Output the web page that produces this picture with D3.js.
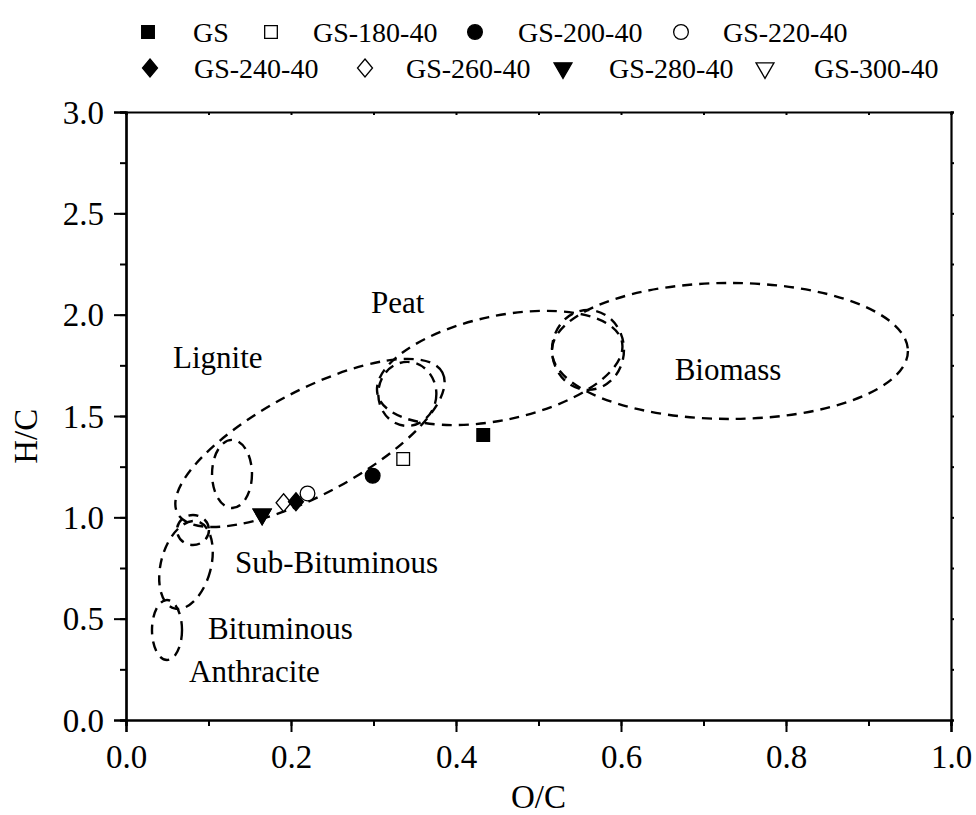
<!DOCTYPE html>
<html>
<head>
<meta charset="utf-8">
<script src="https://cdn.jsdelivr.net/npm/d3@7/dist/d3.min.js"></script>
<style>
  body { margin: 0; background: #fff; }
  text { font-family: "Liberation Serif", "Times New Roman", serif; fill: #000; }
</style>
</head>
<body>
<div id="chart"></div>
<script>
// samples (O/C, H/C)
var seriesNames = ["GS", "GS-180-40", "GS-200-40", "GS-220-40", "GS-240-40", "GS-260-40", "GS-280-40", "GS-300-40"];
var ocValues = [0.433, 0.336, 0.299, 0.220, 0.206, 0.191, 0.165, 0.165];
var hcValues = [1.406, 1.288, 1.205, 1.118, 1.077, 1.072, 1.015, 1.015];
var markerShapes = ["square", "square", "circle", "circle", "diamond", "diamond", "triangle", "triangle"];
var markerFilled = [true, false, true, false, true, false, true, false];

// fuel regions: centre (O/C, H/C), half axes (O/C, H/C), tilt in degrees
var regionCx = [0.732, 0.560, 0.453, 0.341, 0.223, 0.1285, 0.0727, 0.0812, 0.0497];
var regionCy = [1.821, 1.826, 1.737, 1.609, 1.367, 1.214, 0.765, 0.9375, 0.444];
var regionRx = [0.2158, 0.0436, 0.1515, 0.0352, 0.1818, 0.0242, 0.0303, 0.0194, 0.0182];
var regionRy = [0.3355, 0.197, 0.2566, 0.158, 0.2566, 0.168, 0.222, 0.074, 0.148];
var regionTilt = [0, 0, -12, 0, -28, 0, 15, 0, 0];

var regionLabels = ["Peat", "Biomass", "Lignite", "Sub-Bituminous", "Bituminous", "Anthracite"];
var labelOc = [0.297, 0.665, 0.057, 0.132, 0.0994, 0.0764];
var labelHc = [2.008, 1.678, 1.737, 0.725, 0.400, 0.1875];

var xTicks = [0, 0.2, 0.4, 0.6, 0.8, 1.0];
var yTicks = [0, 0.5, 1.0, 1.5, 2.0, 2.5, 3.0];

var width = 976, height = 815;
var margin = {top: 112, right: 25, bottom: 95, left: 126};

var svg = d3.select("#chart").append("svg")
    .attr("width", width)
    .attr("height", height);

var x = d3.scaleLinear().domain([0, 1]).range([margin.left, width - margin.right]);
var y = d3.scaleLinear().domain([0, 3]).range([height - margin.bottom, margin.top]);

// regions
var regions = svg.append("g")
    .attr("fill", "none")
    .attr("stroke", "#000")
    .attr("stroke-width", 2.4)
    .attr("stroke-dasharray", "10,7");

regionCx.forEach(function(cx, i) {
    var px = x(cx), py = y(regionCy[i]);
    regions.append("ellipse")
        .attr("cx", 0).attr("cy", 0)
        .attr("rx", x(cx + regionRx[i]) - px)
        .attr("ry", py - y(regionCy[i] + regionRy[i]))
        .attr("transform", "translate(" + px + "," + py + ") rotate(" + regionTilt[i] + ")");
});

svg.append("g").selectAll("text")
    .data(regionLabels)
    .join("text")
    .attr("x", function(d, i) { return x(labelOc[i]); })
    .attr("y", function(d, i) { return y(labelHc[i]); })
    .attr("font-size", 31)
    .text(function(d) { return d; });

// markers
var symbolTypes = {
    square: d3.symbolSquare,
    circle: d3.symbolCircle,
    triangle: d3.symbolTriangle
};
var symbolSizes = {square: 160, circle: 170, triangle: 140};

function marker(g, i) {
    var shape = markerShapes[i];
    var p = g.append("path");
    if (shape == "diamond") {
        p.attr("d", "M0,-9L7.5,0L0,9L-7.5,0Z");
    } else {
        p.attr("d", d3.symbol().type(symbolTypes[shape]).size(symbolSizes[shape]))
         .attr("transform", shape == "triangle" ? "rotate(180)" : null);
    }
    p.attr("fill", markerFilled[i] ? "#000" : "#fff")
        .attr("stroke", "#000")
        .attr("stroke-width", 1.3);
}

// GS-300-40 sits under GS-280-40
var order = d3.range(seriesNames.length).reverse();
order.forEach(function(i) {
    var g = svg.append("g").attr("transform", "translate(" + x(ocValues[i]) + "," + y(hcValues[i]) + ")");
    marker(g, i);
});

// axes
svg.append("g")
    .attr("transform", "translate(0," + y(0) + ")")
    .call(d3.axisBottom(x).tickValues(d3.range(0, 1.01, 0.1)).tickSize(6).tickFormat(""));
var xAxisMajor = svg.append("g")
    .attr("transform", "translate(0," + y(0) + ")")
    .call(d3.axisBottom(x).tickValues(xTicks).tickSize(12).tickPadding(6).tickFormat(d3.format(".1f")));
svg.append("g")
    .attr("transform", "translate(" + x(0) + ",0)")
    .call(d3.axisLeft(y).tickValues(d3.range(0, 3.01, 0.25)).tickSize(6).tickFormat(""));
var yAxisMajor = svg.append("g")
    .attr("transform", "translate(" + x(0) + ",0)")
    .call(d3.axisLeft(y).tickValues(yTicks).tickSize(12).tickPadding(10).tickFormat(d3.format(".1f")));
svg.append("g")
    .attr("transform", "translate(0," + y(3) + ")")
    .call(d3.axisBottom(x).tickValues(d3.range(0, 1.01, 0.1)).tickSize(3).tickFormat(""));
svg.append("g")
    .attr("transform", "translate(" + x(1) + ",0)")
    .call(d3.axisRight(y).tickValues(d3.range(0, 3.01, 0.25)).tickSize(3).tickFormat(""));

svg.selectAll(".domain").attr("stroke-width", 2.2);
svg.selectAll(".tick line").attr("stroke-width", 2);
svg.selectAll(".tick text")
    .attr("font-size", 33)
    .attr("font-family", "Liberation Serif");
xAxisMajor.selectAll(".tick text").attr("dy", "0.9em");
yAxisMajor.selectAll(".tick text").attr("dy", "0.34em");

svg.append("text")
    .attr("x", (x(0) + x(1)) / 2)
    .attr("y", 808)
    .attr("text-anchor", "middle")
    .attr("font-size", 33)
    .text("O/C");
svg.append("text")
    .attr("transform", "translate(37," + y(1.4) + ") rotate(-90)")
    .attr("text-anchor", "middle")
    .attr("font-size", 33)
    .text("H/C");

// legend
var legendX = [148, 271, 475, 681];
var legendTextX = [193, 313, 518, 723];
var legendX2 = [150, 365, 563, 765];
var legendTextX2 = [194, 406, 609, 814];
seriesNames.forEach(function(name, i) {
    var row = i < 4 ? 0 : 1, col = i % 4;
    var cy = row == 0 ? 32 : 68;
    var mx = row == 0 ? legendX[col] : legendX2[col];
    var tx = row == 0 ? legendTextX[col] : legendTextX2[col];
    var g = svg.append("g").attr("transform", "translate(" + mx + "," + cy + ")");
    marker(g, i);
    svg.append("text")
        .attr("x", tx)
        .attr("y", cy + 10)
        .attr("font-size", 28)
        .text(name);
});
</script>
</body>
</html>
